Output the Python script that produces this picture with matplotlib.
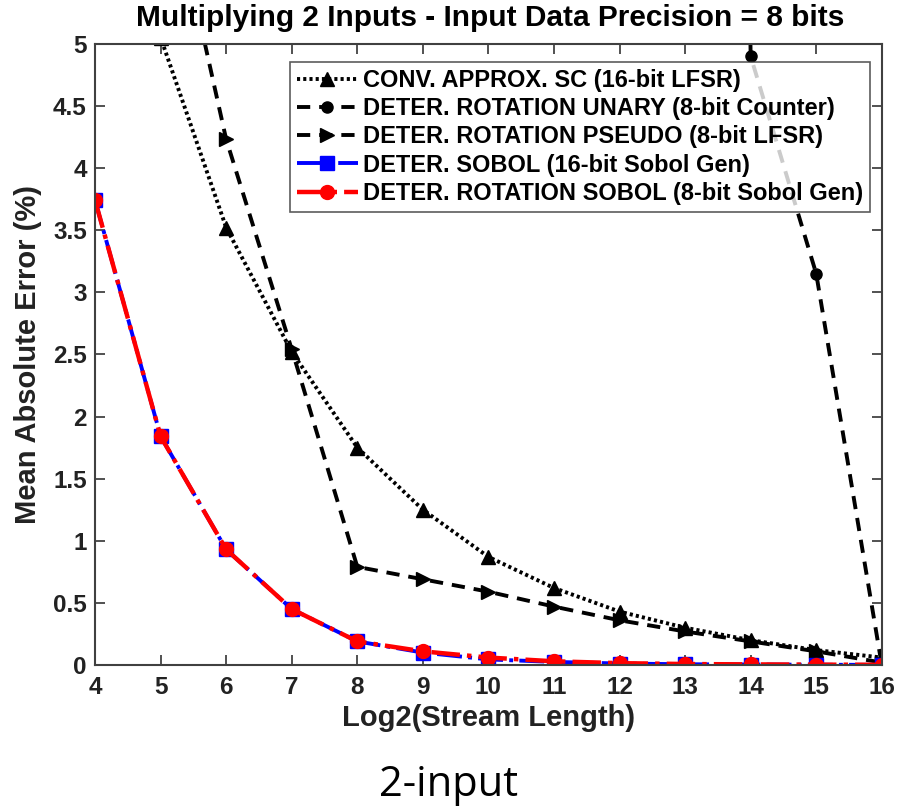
import numpy as np
import matplotlib.pyplot as plt

# Data
log2_len = [4, 5, 6, 7, 8, 9, 10, 11, 12, 13, 14, 15, 16]

conv_sc = [7.0, 5.05, 3.52, 2.52, 1.75, 1.25, 0.87, 0.62, 0.43, 0.30, 0.20, 0.12, 0.06]
rot_unary = [90.0, 80.0, 70.0, 62.0, 55.0, 50.0, 46.0, 43.0, 41.0, 40.0, 4.9, 3.15, 0.0]
rot_pseudo = [9.0, 6.6, 4.23, 2.54, 0.79, 0.69, 0.59, 0.47, 0.36, 0.27, 0.19, 0.11, 0.02]
sobol = [3.74, 1.84, 0.93, 0.45, 0.19, 0.10, 0.045, 0.025, 0.012, 0.006, 0.004, 0.002, 0.001]
rot_sobol = [3.74, 1.84, 0.93, 0.45, 0.19, 0.11, 0.06, 0.03, 0.015, 0.008, 0.005, 0.003, 0.002]

labels = ['CONV. APPROX. SC (16-bit LFSR)',
          'DETER. ROTATION UNARY (8-bit Counter)',
          'DETER. ROTATION PSEUDO (8-bit LFSR)',
          'DETER. SOBOL (16-bit Sobol Gen)',
          'DETER. ROTATION SOBOL (8-bit Sobol Gen)']

plt.rcParams['font.family'] = ['Liberation Sans', 'DejaVu Sans']
plt.rcParams['font.weight'] = 'bold'

fig = plt.figure(figsize=(8.97, 8.10), dpi=100)
ax = fig.add_axes([0.106, 0.179, 0.877, 0.767])

dash = (0, (3.4, 2.3))
ax.plot(log2_len, conv_sc, color='black', linestyle=(0, (0.8, 0.8)), linewidth=2.8,
        marker='^', markersize=10, label=labels[0])
ax.plot(log2_len, rot_unary, color='black', linestyle=dash, linewidth=2.8,
        marker='o', markersize=8, label=labels[1])
ax.plot(log2_len, rot_pseudo, color='black', linestyle=dash, linewidth=2.8,
        marker='>', markersize=10, label=labels[2])
ax.plot(log2_len, sobol, color='blue', linestyle='-.', linewidth=2.8,
        marker='s', markersize=10, label=labels[3])
ax.plot(log2_len, rot_sobol, color='red', linestyle='-.', linewidth=3.2,
        marker='o', markersize=10, label=labels[4])

ax.set_xlim(4, 16)
ax.set_ylim(0, 5)
ax.set_xticks(np.arange(4, 17, 1))
ax.set_yticks(np.arange(0, 5.01, 0.5))
ax.set_yticklabels(['0', '0.5', '1', '1.5', '2', '2.5', '3', '3.5', '4', '4.5', '5'])
ax.tick_params(direction='in', top=True, right=True, length=7, width=1.2,
               colors='#333333', labelcolor='#222222', labelsize=17.5)
ax.tick_params(axis='x', pad=8)
ax.tick_params(axis='y', pad=6)
for sp in ax.spines.values():
    sp.set_color('#404040')
    sp.set_linewidth(1.5)

ax.set_xlabel('Log2(Stream Length)', fontsize=21, fontweight='bold', color='#222222')
ax.xaxis.set_label_coords(0.5, -0.062)
ax.set_ylabel('Mean Absolute Error (%)', fontsize=21, fontweight='bold', color='#222222')
ax.yaxis.set_label_coords(-0.068, 0.5)
fig.text(490 / 897, 1 - 18 / 810, 'Multiplying 2 Inputs - Input Data Precision = 8 bits',
         ha='center', va='center', fontsize=21.5, fontweight='bold')

leg = ax.legend(loc='upper right', bbox_to_anchor=(870 / 897, 1 - 62 / 810),
                bbox_transform=fig.transFigure, fontsize=17, frameon=True,
                fancybox=False, edgecolor='#333333', handlelength=2.6,
                handletextpad=0.2, borderpad=0.3, labelspacing=0.22,
                borderaxespad=0)
leg.get_frame().set_linewidth(1.2)

fig.text(0.5, 1 - 785 / 810, '2-input', ha='center', va='center', fontsize=30,
         fontweight='normal', family=['Open Sans', 'DejaVu Sans'])

fig.savefig('out.png', dpi=100)
